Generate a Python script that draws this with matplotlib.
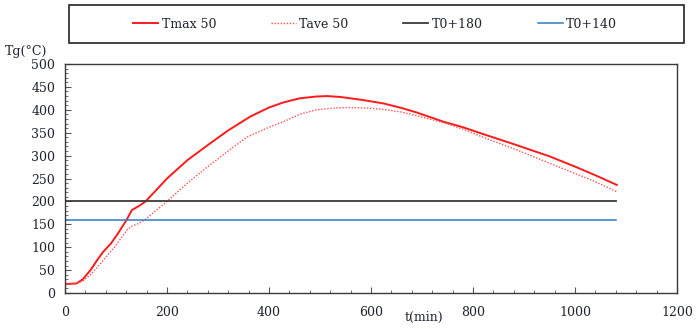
import matplotlib
matplotlib.use("Agg")
import matplotlib.pyplot as plt
from matplotlib.ticker import MultipleLocator
from matplotlib.patches import Rectangle

plt.rcParams['font.family'] = ['DejaVu Serif', 'Liberation Serif']

# Gas temperature curves (time in minutes, temperature in °C)
t_max = [0, 10, 23, 35, 50, 65, 75, 90, 105, 121, 131, 145, 157, 175, 200, 240, 280,
         320, 363, 400, 428, 460, 493, 513, 540, 580, 624, 660, 690, 742, 780, 820,
         880, 951, 1000, 1040, 1082]
tmax_50 = [20, 20, 21, 30, 50, 75, 90, 108, 132, 160, 181, 190, 199, 220, 250, 290, 323,
           355, 385, 405, 416, 425, 429, 430, 428, 422, 414, 404, 394, 374, 362, 347,
           325, 298, 276, 257, 236]

t_ave = [0, 10, 23, 35, 50, 65, 80, 100, 121, 131, 145, 157, 175, 199, 240, 280, 320,
         356, 400, 428, 460, 493, 530, 559, 590, 624, 660, 690, 742, 780, 820, 880,
         951, 1000, 1040, 1082]
tave_50 = [20, 20, 21, 26, 40, 58, 78, 104, 137, 146, 152, 160, 177, 199, 240, 276, 310,
           340, 362, 374, 390, 400, 404, 405, 404, 401, 395, 387, 372, 358, 340, 315,
           283, 261, 243, 221]

# Reference levels
t_ref = [0, 1080]
t0_180 = [200, 200]
t0_140 = [160, 160]

labels = ['Tmax 50', 'Tave 50', 'T0+180', 'T0+140']
x_ticks = [0, 200, 400, 600, 800, 1000, 1200]
y_ticks = [0, 50, 100, 150, 200, 250, 300, 350, 400, 450, 500]

W, H = 696, 329
fs = 9
txt_color = '#20222e'

fig = plt.figure(figsize=(W / 100, H / 100), dpi=100)
ax = fig.add_axes([65 / W, 1 - 293 / H, 612 / W, 229 / H])

c_max = '#ff1a1a'
c_ave = '#ff5050'
c_180 = '#3a3a3a'
c_140 = '#2e7cc4'

ax.plot(t_max, tmax_50, color=c_max, lw=1.4, label=labels[0])
ax.plot(t_ave, tave_50, color=c_ave, lw=1.0, ls=(0, (1, 1.2)), label=labels[1])
ax.plot(t_ref, t0_180, color=c_180, lw=1.3, label=labels[2])
ax.plot(t_ref, t0_140, color=c_140, lw=1.1, label=labels[3])

ax.set_xlim(0, 1200)
ax.set_ylim(0, 500)
ax.set_xticks(x_ticks)
ax.set_yticks(y_ticks)
ax.xaxis.set_minor_locator(MultipleLocator(40))
ax.yaxis.set_minor_locator(MultipleLocator(10))
ax.tick_params(which='both', direction='in', top=False, right=False,
               color='#555555', labelsize=fs, labelcolor=txt_color)
ax.tick_params(which='major', length=4, width=0.8)
ax.tick_params(which='minor', length=2.5, width=0.6)
ax.tick_params(axis='x', pad=9)
ax.tick_params(axis='y', pad=7)
for s in ax.spines.values():
    s.set_color('#3a3a3a')
    s.set_linewidth(1.0)

fig.text(5 / W, 1 - 52 / H, 'Tg(°C)', fontsize=fs, va='center', ha='left', color=txt_color)
fig.text(405 / W, 1 - 317 / H, 't(min)', fontsize=fs, va='center', ha='left', color=txt_color)

# Legend frame spanning the top of the figure
fig.patches.append(Rectangle((69 / W, 1 - 43 / H), 615 / W, 38 / H,
                             transform=fig.transFigure, fill=False,
                             edgecolor='#222222', linewidth=1.2))

handles, lbls = ax.get_legend_handles_labels()
leg = fig.legend(handles, lbls, loc='center', ncol=4,
                 bbox_to_anchor=(375 / W, 1 - 24 / H),
                 frameon=False, handlelength=2.0, handletextpad=0.25,
                 columnspacing=4.4, fontsize=fs, borderaxespad=0)
for txt in leg.get_texts():
    txt.set_color(txt_color)

fig.savefig('out.png', dpi=100)
